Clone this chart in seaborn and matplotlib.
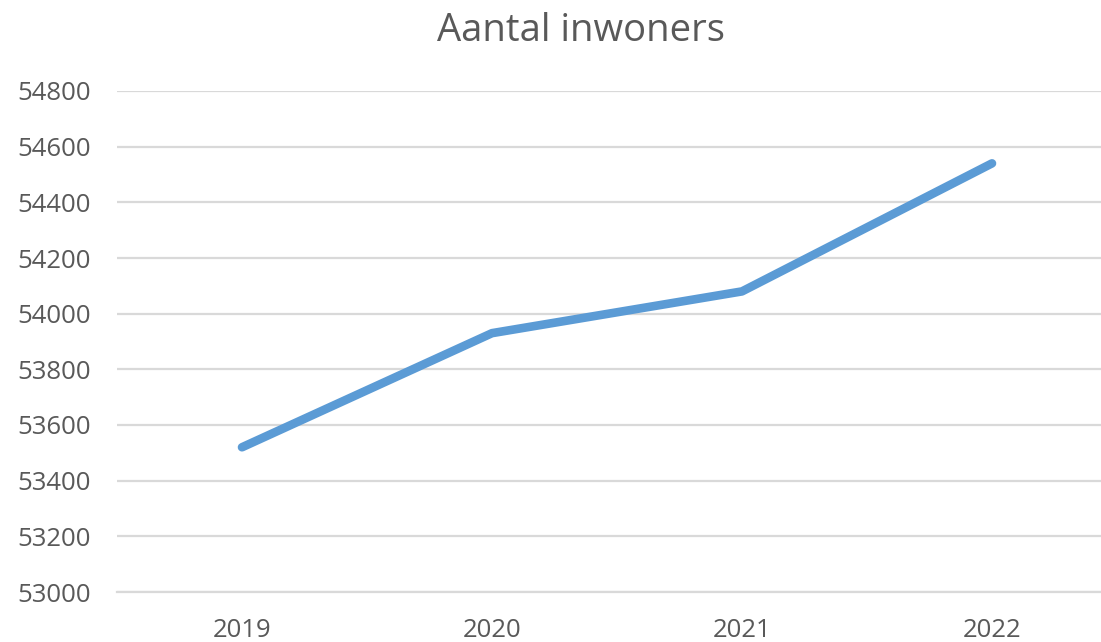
import pandas as pd
import matplotlib.pyplot as plt
import seaborn as sns

plt.switch_backend('Agg')

# Data
years = ['2019', '2020', '2021', '2022']
inwoners = [53520, 53930, 54080, 54540]
y_ticks = [53000, 53200, 53400, 53600, 53800, 54000, 54200, 54400, 54600, 54800]

text_color = '#595959'
grid_color = '#D9D9D9'
line_color = '#5B9BD5'


def make_chart():
    sns.set_style('white')
    plt.rcParams['font.family'] = ['Open Sans', 'DejaVu Sans']

    df = pd.DataFrame({'Jaar': years, 'Inwoners': inwoners})

    fig = plt.figure(figsize=(11.01, 6.42), dpi=100)
    # chart is cropped at the right edge, so the axes run past the figure
    ax = fig.add_axes([117 / 1101, 50 / 642, 1000 / 1101, 501 / 642])

    sns.lineplot(data=df, x='Jaar', y='Inwoners', ax=ax, color=line_color,
                 linewidth=6.2, solid_capstyle='round', zorder=3)

    ax.set_xlim(-0.5, len(years) - 0.5)
    ax.set_ylim(y_ticks[0], y_ticks[-1])
    ax.set_yticks(y_ticks)
    ax.set_yticklabels([str(v) for v in y_ticks])

    ax.grid(axis='y', color=grid_color, linewidth=1.6)
    ax.grid(axis='x', visible=False)
    for side in ['top', 'right', 'left']:
        ax.spines[side].set_visible(False)
    ax.spines['bottom'].set_color(grid_color)
    ax.spines['bottom'].set_linewidth(1.6)

    ax.tick_params(axis='y', length=0, pad=19, labelsize=18.5, labelcolor=text_color)
    ax.tick_params(axis='x', length=0, pad=19, labelsize=18.5, labelcolor=text_color)
    ax.set_xlabel('')
    ax.set_ylabel('')

    fig.text(581 / 1101, 1 - 31 / 642, 'Aantal inwoners', ha='center', va='center',
             fontsize=27.5, color=text_color)

    fig.savefig('out.png', dpi=100)
    plt.close(fig)


if __name__ == "__main__":
    make_chart()
